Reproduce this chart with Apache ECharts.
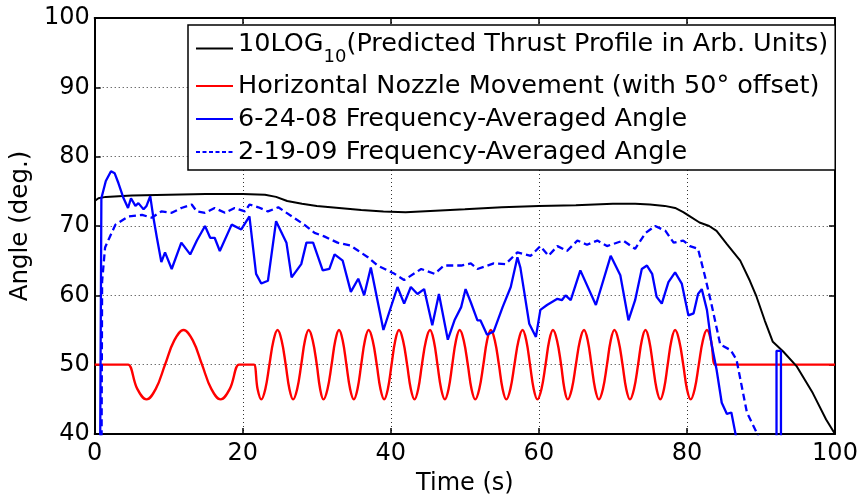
<!DOCTYPE html>
<html>
<head>
<meta charset="utf-8">
<script src="https://cdn.jsdelivr.net/npm/echarts@6/dist/echarts.min.js"></script>
<style>
html,body{margin:0;padding:0;background:#fff;}
#chart{width:861px;height:501px;}
</style>
</head>
<body>
<div id="chart"></div>
<script>
// ---- data ----
const seriesNames = [
  '10LOG10(Predicted Thrust Profile in Arb. Units)',
  'Horizontal Nozzle Movement (with 50\u00b0 offset)',
  '6-24-08 Frequency-Averaged Angle',
  '2-19-09 Frequency-Averaged Angle'
];
const xAxisName = 'Time (s)';
const yAxisName = 'Angle (deg.)';

const thrustProfile = [
  [0,73.6],[0.5,74.0],[1.5,74.2],[5,74.4],[10,74.5],[15,74.6],[20,74.6],[23,74.5],[24.5,74.2],
  [26,73.6],[28,73.2],[30,72.9],[33,72.6],[36,72.3],[39,72.1],[42,72.0],[46,72.2],[50,72.4],
  [55,72.7],[60,72.9],[65,73.0],[70,73.2],[73,73.2],[75,73.1],[77,72.9],[78.4,72.6],[79.5,72.0],
  [80.4,71.4],[81.7,70.5],[83,70.0],[84,69.3],[85.4,67.4],[87.2,65.0],[88.5,62.1],[89.4,59.8],
  [90.5,56.4],[91.6,53.3],[93,51.9],[94.8,49.8],[97,45.9],[98.8,42.1],[100,40.0]
];

const nozzleMovement = [
  [0,50],[4.0,50],[4.5,50],[5.75,46.5],[7.0,45],[8.25,46.5],[9.5,50],[10.75,53.5],[12.0,55],
  [13.25,53.5],[14.5,50],[15.75,46.5],[17.0,45],[18.25,46.5],[19.5,50],[20.0,50],[21.0,50],
  [21.5,50],[22.0,46.5],[22.5,45],[23.05,46.5],[23.6,50],[24.15,53.5],[24.7,55],[25.25,53.5],
  [25.8,50],[26.3,46.5],[26.8,45],[27.35,46.5],[27.9,50],[28.4,53.5],[28.9,55],[29.45,53.5],
  [30.0,50],[30.45,46.5],[30.9,45],[31.45,46.5],[32.0,50],[32.5,53.5],[33.0,55],[33.5,53.5],
  [34.0,50],[34.5,46.5],[35.0,45],[35.5,46.5],[36.0,50],[36.5,53.5],[37.0,55],[37.55,53.5],
  [38.1,50],[38.6,46.5],[39.1,45],[39.6,46.5],[40.1,50],[40.6,53.5],[41.1,55],[41.65,53.5],
  [42.2,50],[42.7,46.5],[43.2,45],[43.7,46.5],[44.2,50],[44.75,53.5],[45.3,55],[45.8,53.5],
  [46.3,50],[46.8,46.5],[47.3,45],[47.8,46.5],[48.3,50],[48.8,53.5],[49.3,55],[49.85,53.5],
  [50.4,50],[50.9,46.5],[51.4,45],[51.95,46.5],[52.5,50],[53.0,53.5],[53.5,55],[54.05,53.5],
  [54.6,50],[55.1,46.5],[55.6,45],[56.15,46.5],[56.7,50],[57.25,53.5],[57.8,55],[58.3,53.5],
  [58.8,50],[59.3,46.5],[59.8,45],[60.35,46.5],[60.9,50],[61.4,53.5],[61.9,55],[62.45,53.5],
  [63.0,50],[63.45,46.5],[63.9,45],[64.45,46.5],[65.0,50],[65.55,53.5],[66.1,55],[66.6,53.5],
  [67.1,50],[67.6,46.5],[68.1,45],[68.65,46.5],[69.2,50],[69.7,53.5],[70.2,55],[70.75,53.5],
  [71.3,50],[71.8,46.5],[72.3,45],[72.85,46.5],[73.4,50],[73.9,53.5],[74.4,55],[74.9,53.5],
  [75.4,50],[75.9,46.5],[76.4,45],[76.9,46.5],[77.4,50],[77.9,53.5],[78.4,55],[78.95,53.5],
  [79.5,50],[80.0,46.5],[80.5,45],[81.05,46.5],[81.6,50],[82.15,53.5],[82.7,55],[83.25,53.5],
  [83.8,50],[84.3,50],[100,50]
];

const angle062408 = [
  [0.7,30],[0.9,74.0],[1.5,76.5],[2.2,77.9],[2.7,77.6],[3.2,76.2],[3.9,74.0],[4.5,72.6],
  [4.9,74.0],[5.5,72.9],[5.9,73.3],[6.6,72.4],[7.0,72.9],[7.5,74.3],[7.9,71.4],[8.4,68.3],
  [9.0,64.8],[9.5,66.2],[10.4,63.8],[11.7,67.6],[12.9,65.9],[13.8,67.9],[14.9,70.0],[15.6,68.3],
  [16.2,68.3],[16.9,66.4],[18.5,70.2],[19.8,69.5],[20.9,71.4],[21.8,63.1],[22.5,61.7],[23.4,62.1],
  [24.5,70.7],[25.9,67.6],[26.6,62.6],[27.9,64.5],[28.6,67.6],[29.5,67.6],[30.8,63.6],[31.7,63.8],
  [32.4,65.9],[33.5,65.0],[34.6,60.5],[35.6,62.4],[36.4,60.0],[37.3,64.0],[39.0,55.0],[40.9,61.2],
  [41.8,58.8],[42.7,61.2],[43.6,60.2],[44.5,60.9],[45.6,55.7],[46.5,60.2],[47.7,53.6],[48.6,56.4],
  [49.5,58.3],[50.1,60.9],[50.8,59.0],[51.7,56.4],[52.1,56.4],[53.0,54.3],[53.9,54.8],[55.1,58.3],
  [56.2,61.2],[57.1,65.5],[57.5,64.0],[58.7,55.9],[59.6,54.0],[60.2,57.9],[61.1,58.6],[62.5,59.5],
  [63.1,59.3],[63.6,60.0],[64.3,59.3],[65.6,63.6],[67.7,58.6],[69.7,65.7],[71.0,62.9],[72.1,56.4],
  [73.0,59.3],[73.9,63.8],[74.6,64.3],[75.3,63.1],[75.9,59.8],[76.6,58.8],[77.5,61.9],[78.4,63.3],
  [79.3,61.7],[80.2,57.1],[80.9,57.4],[81.5,60.2],[82.0,60.9],[82.7,57.9],[83.3,53.1],[84.0,49.3],
  [84.7,44.5],[85.4,42.9],[86.0,43.1],[86.6,39.8],[87.0,30],[92.1,30],[92.1,52],[92.7,52],[92.7,30]
];

const angle021909 = [
  [0.9,30],[1.0,62],[1.4,66.9],[1.9,68.1],[2.8,70.2],[4.6,71.4],[6.4,71.6],[7.7,71.2],[9.0,72.1],
  [10.4,71.9],[11.7,72.6],[13.1,73.1],[13.8,72.1],[14.9,71.9],[16.2,72.6],[17.6,71.9],[18.9,72.6],
  [20.3,72.1],[20.9,73.1],[22.1,72.7],[23.4,72.1],[24.8,72.7],[26.6,71.4],[28.3,70.2],[29.7,69.0],
  [31.0,68.5],[32.8,67.6],[34.5,67.2],[35.5,66.5],[36.9,65.5],[38.2,64.3],[40.5,63.1],[41.8,62.2],
  [44.1,63.8],[45.9,63.1],[47.2,64.3],[49.5,64.3],[50.8,64.6],[51.7,63.8],[53.9,64.6],[55.5,64.5],
  [57.1,66.2],[58.9,65.7],[60.2,67.1],[61.3,65.7],[62.5,67.1],[63.8,66.4],[65.2,67.9],[66.5,67.3],
  [67.9,67.9],[69.2,67.1],[71.4,67.9],[73.0,66.7],[74.4,69.0],[75.7,70.0],[77.1,69.3],[78.2,67.6],
  [79.5,67.9],[80.4,67.1],[81.5,66.7],[82.4,62.9],[83.3,58.8],[84.5,52.9],[85.9,52.1],[86.7,50.7],
  [88.1,43.1],[89.6,39.8],[90.0,30]
];

// ---- chart ----
const FONT = 'DejaVu Sans';
const chart = echarts.init(document.getElementById('chart'), null, {renderer: 'canvas'});

const axisLineStyle = {color: '#000', width: 2};
const tickStyle = {color: '#000', width: 1.5};
const gridLineStyle = {type: [1, 3], color: '#333', width: 1};
const hiddenSymbol = {opacity: 0};

const option = {
  animation: false,
  backgroundColor: '#fff',
  textStyle: {fontFamily: FONT},
  grid: {left: 93, right: 26, top: 18, bottom: 63, containLabel: false},
  legend: {
    orient: 'vertical',
    left: 188,
    top: 25,
    align: 'left',
    itemWidth: 37,
    itemHeight: 10,
    itemGap: 7,
    padding: [6, 7, 5, 7],
    borderColor: '#000',
    borderWidth: 1.5,
    borderRadius: 0,
    backgroundColor: '#fff',
    selectedMode: false,
    data: [
      {name: seriesNames[0], itemStyle: hiddenSymbol},
      {name: seriesNames[1], itemStyle: hiddenSymbol},
      {name: seriesNames[2], itemStyle: hiddenSymbol},
      {name: seriesNames[3], itemStyle: hiddenSymbol, lineStyle: {type: [4, 2.5]}}
    ],
    formatter: function (name) {
      if (name === seriesNames[0]) {
        return '{m|10LOG}{s|10}{m|(Predicted Thrust Profile in Arb. Units)}';
      }
      return name;
    },
    textStyle: {
      fontFamily: FONT,
      fontSize: 25.5,
      color: '#000',
      rich: {
        m: {fontFamily: FONT, fontSize: 25.5, color: '#000', verticalAlign: 'top'},
        s: {fontFamily: FONT, fontSize: 18, color: '#000', lineHeight: 35, verticalAlign: 'bottom'}
      }
    }
  },
  xAxis: [
    {
      type: 'value', position: 'bottom', min: 0, max: 100, interval: 20,
      name: xAxisName, nameLocation: 'middle', nameGap: 38,
      nameTextStyle: {fontFamily: FONT, fontSize: 24, color: '#000'},
      axisLine: {show: true, lineStyle: axisLineStyle},
      axisTick: {show: true, inside: true, length: 6, lineStyle: tickStyle},
      axisLabel: {show: true, fontFamily: FONT, fontSize: 24, color: '#000', margin: 8},
      splitLine: {show: true, lineStyle: gridLineStyle}
    },
    {
      type: 'value', position: 'top', min: 0, max: 100, interval: 20,
      axisLine: {show: true, onZero: false, lineStyle: axisLineStyle},
      axisTick: {show: true, inside: true, length: 6, lineStyle: tickStyle},
      axisLabel: {show: false},
      splitLine: {show: false}
    }
  ],
  yAxis: [
    {
      type: 'value', position: 'left', min: 40, max: 100, interval: 10,
      name: yAxisName, nameLocation: 'middle', nameGap: 53,
      nameTextStyle: {fontFamily: FONT, fontSize: 24.5, color: '#000'},
      axisLine: {show: true, lineStyle: axisLineStyle},
      axisTick: {show: true, inside: true, length: 6, lineStyle: tickStyle},
      axisLabel: {show: true, fontFamily: FONT, fontSize: 24, color: '#000', margin: 5},
      splitLine: {show: true, lineStyle: gridLineStyle}
    },
    {
      type: 'value', position: 'right', min: 40, max: 100, interval: 10,
      axisLine: {show: true, onZero: false, lineStyle: axisLineStyle},
      axisTick: {show: true, inside: true, length: 6, lineStyle: tickStyle},
      axisLabel: {show: false},
      splitLine: {show: false}
    }
  ],
  series: [
    {
      name: seriesNames[0], type: 'line', data: thrustProfile, symbol: 'none',
      xAxisIndex: 0, yAxisIndex: 0, clip: true, z: 3,
      lineStyle: {color: '#000', width: 2}, itemStyle: {color: '#000'}
    },
    {
      name: seriesNames[1], type: 'line', data: nozzleMovement, symbol: 'none', smooth: 0.4,
      xAxisIndex: 0, yAxisIndex: 0, clip: true, z: 2,
      lineStyle: {color: '#ff0000', width: 2.4}, itemStyle: {color: '#ff0000'}
    },
    {
      name: seriesNames[2], type: 'line', data: angle062408, symbol: 'none',
      xAxisIndex: 0, yAxisIndex: 0, clip: true, z: 4,
      lineStyle: {color: '#0000ff', width: 2.3}, itemStyle: {color: '#0000ff'}
    },
    {
      name: seriesNames[3], type: 'line', data: angle021909, symbol: 'none',
      xAxisIndex: 0, yAxisIndex: 0, clip: true, z: 4,
      lineStyle: {color: '#0000ff', width: 2.3, type: [7, 4]}, itemStyle: {color: '#0000ff'}
    }
  ]
};
chart.setOption(option);
</script>
</body>
</html>
